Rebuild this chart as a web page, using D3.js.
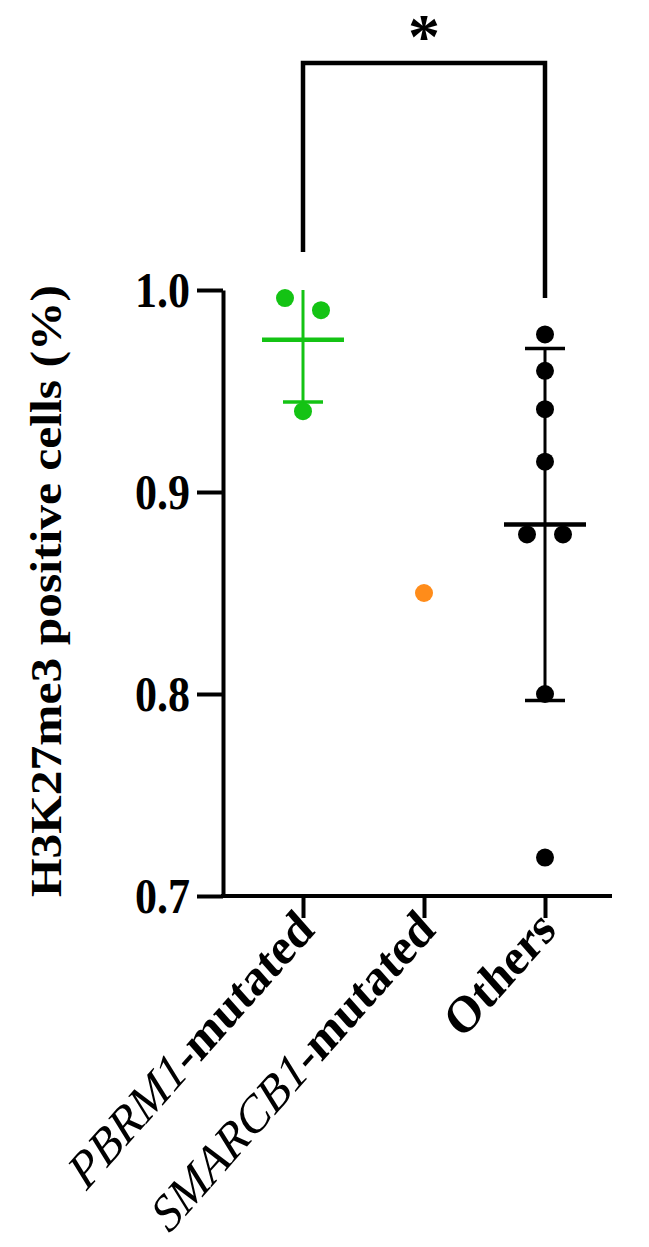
<!DOCTYPE html>
<html><head><meta charset="utf-8">
<script src="https://cdn.jsdelivr.net/npm/d3@7"></script>
<style>body{margin:0;background:#fff}</style>
</head><body>
<svg id="c" width="649" height="1247"></svg>
<script>
// ---- data ----
const categories = ["PBRM1-mutated", "SMARCB1-mutated", "Others"];
const labelItalic = ["PBRM1", "SMARCB1", ""];
const labelBold = ["-mutated", "-mutated", "Others"];
const pbrm1Values = [0.996, 0.990, 0.940];
const smarcb1Values = [0.850];
const othersValues = [0.978, 0.960, 0.941, 0.915, 0.879, 0.879, 0.800, 0.719];
const groupColors = ["#14c314", "#ff8c1a", "#000000"];
const yTicks = [0.7, 0.8, 0.9, 1.0];
const yLabel = "H3K27me3 positive cells (%)";
const sigLabel = "*";

const groups = [pbrm1Values, smarcb1Values, othersValues];

// ---- layout ----
const L = 223, R = 612, T = 290, B = 896;
const stretch = 1.13;
const svg = d3.select("#c");
const serif = "'Liberation Serif','Times New Roman',serif";

const y = d3.scaleLinear().domain([0.7, 1.0]).range([B, T]);
const x = d3.scalePoint().domain(categories).range([303, 545]);

// y axis
const gy = svg.append("g").attr("transform", `translate(${L},0)`)
  .call(d3.axisLeft(y).tickValues(yTicks).tickFormat(d3.format(".1f")).tickSize(26).tickSizeOuter(0).tickPadding(7));
gy.select(".domain").attr("stroke", "#000").attr("stroke-width", 4);
gy.selectAll(".tick line").attr("stroke", "#000").attr("stroke-width", 4);
gy.selectAll(".tick text").attr("font-family", serif).attr("font-weight", "bold")
  .attr("font-size", 44).attr("fill", "#000").attr("dy", "0.33em")
  .attr("transform", `scale(1,${stretch})`);

// x axis
const gx = svg.append("g").attr("transform", `translate(0,${B})`)
  .call(d3.axisBottom(x).tickSize(22).tickSizeOuter(0).tickFormat(""));
gx.select(".domain").remove();
gx.append("line").attr("x1", L - 2).attr("x2", R).attr("y1", 0).attr("y2", 0)
  .attr("stroke", "#000").attr("stroke-width", 4);
gx.selectAll(".tick line").attr("stroke", "#000").attr("stroke-width", 4);

// x labels (rotated)
categories.forEach((c, i) => {
  const t = svg.append("text")
    .attr("transform", `translate(${x(c) + 13},${B + 36}) scale(1,${stretch}) rotate(-45)`)
    .attr("text-anchor", "end").attr("font-family", serif).attr("font-size", 46).attr("fill", "#000");
  if (labelItalic[i]) t.append("tspan").attr("font-style", "italic").text(labelItalic[i]);
  t.append("tspan").attr("font-weight", "bold").text(labelBold[i]);
});

// y label
svg.append("text")
  .attr("transform", `translate(61,${(T + B) / 2 - 2}) rotate(-90)`)
  .attr("text-anchor", "middle").attr("font-family", serif).attr("font-weight", "bold")
  .attr("font-size", 44).attr("fill", "#000")
  .attr("textLength", 612).attr("lengthAdjust", "spacingAndGlyphs")
  .text(yLabel);

// ---- points with simple spreading of overlapping values ----
const r = 9, spread = 18;
groups.forEach((vals, gi) => {
  const cx = x(categories[gi]);
  const col = groupColors[gi];
  // error bars: mean ± SD
  if (vals.length > 1) {
    const m = d3.mean(vals), sd = d3.deviation(vals);
    const lo = Math.max(m - sd, 0.7), hi = Math.min(m + sd, 1.0);
    svg.append("line").attr("x1", cx).attr("x2", cx).attr("y1", y(lo)).attr("y2", y(hi))
      .attr("stroke", col).attr("stroke-width", 3);
    [m - sd, m + sd].forEach(v => {
      if (v >= 0.7 && v <= 1.0) svg.append("line").attr("x1", cx - 20).attr("x2", cx + 20)
        .attr("y1", y(v)).attr("y2", y(v)).attr("stroke", col).attr("stroke-width", 3.5);
    });
    svg.append("line").attr("x1", cx - 41).attr("x2", cx + 41).attr("y1", y(m)).attr("y2", y(m))
      .attr("stroke", col).attr("stroke-width", 4.5);
  }
  // clusters
  const sorted = vals.slice().sort((a, b) => b - a);
  const clusters = [];
  sorted.forEach(v => {
    const last = clusters[clusters.length - 1];
    if (last && Math.abs(y(last[last.length - 1]) - y(v)) < 2 * r) last.push(v);
    else clusters.push([v]);
  });
  clusters.forEach(cl => {
    cl.forEach((v, k) => {
      const off = (k - (cl.length - 1) / 2) * 2 * spread;
      svg.append("circle").attr("cx", cx + off).attr("cy", y(v)).attr("r", r).attr("fill", col);
    });
  });
});

// ---- significance bracket ----
const xa = x(categories[0]), xb = x(categories[2]);
const barY = 63;
svg.append("path")
  .attr("d", d3.line()([[xa, 252], [xa, barY], [xb, barY], [xb, 298]]))
  .attr("fill", "none").attr("stroke", "#000").attr("stroke-width", 4.5);
svg.append("text").attr("x", (xa + xb) / 2).attr("y", 58).attr("text-anchor", "middle")
  .attr("font-family", serif).attr("font-weight", "bold").attr("font-size", 64).attr("fill", "#000")
  .text(sigLabel);
</script>
</body></html>
